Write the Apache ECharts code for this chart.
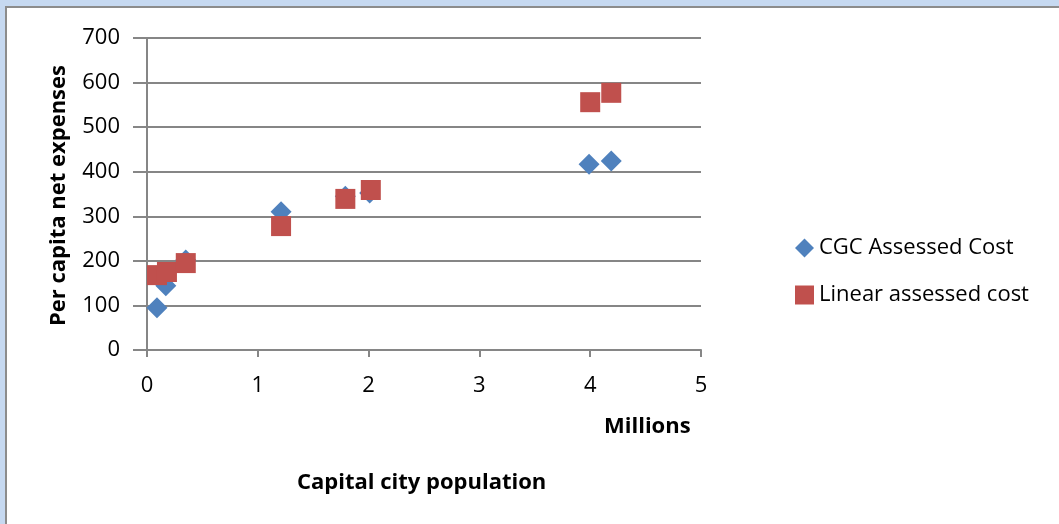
<!DOCTYPE html>
<html>
<head>
<meta charset="utf-8">
<script src="https://cdn.jsdelivr.net/npm/echarts@6/dist/echarts.min.js"></script>
<style>
html,body{margin:0;padding:0;background:#c6d9f1;}
#frame{position:absolute;left:5px;top:6px;width:1060px;height:530px;background:#fff;border-left:2px solid #8c8c8c;border-top:2px solid #8c8c8c;}
#chart{position:absolute;left:0;top:0;width:1059px;height:524px;}
</style>
</head>
<body>
<div id="frame"></div>
<div id="chart"></div>
<script>
const seriesNames = ['CGC Assessed Cost', 'Linear assessed cost'];
const populationMillions = [0.09, 0.17, 0.35, 1.21, 1.79, 2.01, 3.99, 4.19];
const cgcCost = [95, 144, 202, 310, 345, 352, 417, 424];
const linearPop = [0.09, 0.18, 0.35, 1.21, 1.79, 2.02, 4.0, 4.19];
const linearCost = [168, 175, 195, 278, 339, 359, 556, 577];
const xTicks = [0, 1, 2, 3, 4, 5];
const yTicks = [0, 100, 200, 300, 400, 500, 600, 700];

const font = '"Open Sans", "Liberation Sans", sans-serif';
const chart = echarts.init(document.getElementById('chart'));
chart.setOption({
  backgroundColor: 'transparent',
  animation: false,
  textStyle: {fontFamily: font},
  grid: {left: 147, top: 38, right: 358, bottom: 174},
  legend: {
    orient: 'vertical', left: 790, top: 232, itemGap: 25,
    itemWidth: 19, itemHeight: 19,
    textStyle: {fontSize: 22, color: '#000', fontFamily: font},
    data: [{name: seriesNames[0], icon: 'diamond'}, {name: seriesNames[1], icon: 'rect'}]
  },
  xAxis: {
    type: 'value', min: 0, max: 5, interval: 1,
    axisLine: {onZero: false, lineStyle: {color: '#868686', width: 2}},
    axisTick: {show: true, length: 7, lineStyle: {color: '#868686', width: 2}},
    splitLine: {show: false},
    axisLabel: {fontSize: 22, color: '#000', margin: 25, fontFamily: font, formatter: v => xTicks.includes(v) ? String(v) : ''}
  },
  yAxis: {
    type: 'value', min: 0, max: 700, interval: 100,
    axisLine: {show: true, lineStyle: {color: '#868686', width: 2}},
    axisTick: {show: true, length: 14, lineStyle: {color: '#868686', width: 2}},
    splitLine: {lineStyle: {color: '#868686', width: 2}},
    axisLabel: {fontSize: 22, color: '#000', margin: 27, fontFamily: font, formatter: v => yTicks.includes(v) ? String(v) : ''}
  },
  graphic: [
    {type: 'text', left: 604, top: 416, style: {text: 'Millions', font: 'bold 22px ' + font, fill: '#000'}},
    {type: 'text', left: 297, top: 472, style: {text: 'Capital city population', font: 'bold 22px ' + font, fill: '#000'}},
    {type: 'text', x: 48, y: 326, rotation: Math.PI / 2, style: {text: 'Per capita net expenses', font: 'bold 22px ' + font, fill: '#000', align: 'left', verticalAlign: 'top'}, originX: 0, originY: 0}
  ],
  series: [
    {
      name: seriesNames[0], type: 'scatter', symbol: 'diamond', symbolSize: 21,
      itemStyle: {color: '#4f81bd', opacity: 1},
      data: populationMillions.map((x, i) => [x, cgcCost[i]])
    },
    {
      name: seriesNames[1], type: 'scatter', symbol: 'rect', symbolSize: 20,
      itemStyle: {color: '#c0504d', opacity: 1},
      data: linearPop.map((x, i) => [x, linearCost[i]])
    }
  ]
});
</script>
</body>
</html>
